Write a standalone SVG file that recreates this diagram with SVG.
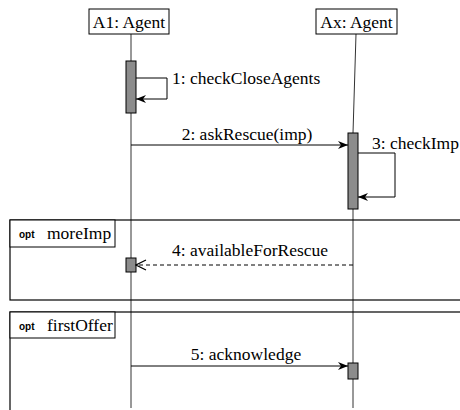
<svg xmlns="http://www.w3.org/2000/svg" width="460" height="410" viewBox="0 0 460 410">
<defs>
<style>
text{font-family:"Liberation Serif","Times New Roman",serif;font-size:17.5px;fill:#000}
.op{font-family:"Liberation Sans",Arial,sans-serif;font-size:10px;font-weight:bold}
.line{stroke:#000;stroke-width:1;fill:none}
.life{stroke:#333;stroke-width:1;fill:none}
.bar{fill:#8c8c8c;stroke:#000;stroke-width:1}
.box{fill:#fff;stroke:#000;stroke-width:1}
.frame{fill:none;stroke:#000;stroke-width:1.2}
</style>
<marker id="fill" viewBox="0 0 10 10" refX="10" refY="5" markerWidth="10" markerHeight="10" markerUnits="userSpaceOnUse" orient="auto"><path d="M0,1 L10,5 L0,9 L3,5 Z" fill="#000"/></marker>
<marker id="open" viewBox="0 0 12 12" refX="11" refY="6" markerWidth="12" markerHeight="12" markerUnits="userSpaceOnUse" orient="auto"><path d="M1,1 L11,6 L1,11" fill="none" stroke="#000" stroke-width="1.2"/></marker>
</defs>
<rect width="460" height="410" fill="#fff"/>
<g id="lifelines">
<line class="life" x1="131" y1="34" x2="131" y2="408"/>
<line class="life" x1="356" y1="34" x2="353" y2="133"/>
<line class="life" x1="353" y1="209" x2="353" y2="408"/>
</g>
<g id="frame-moreImp">
<rect class="frame" x="10" y="220" width="460" height="80"/>
<rect class="box" x="10" y="220" width="105" height="27"/>
<text class="op" x="19" y="238">opt</text>
<text x="47" y="239">moreImp</text>
</g>
<g id="frame-firstOffer">
<rect class="frame" x="10" y="312" width="460" height="110"/>
<rect class="box" x="10" y="312" width="105" height="26"/>
<text class="op" x="19" y="330">opt</text>
<text x="47" y="331">firstOffer</text>
</g>
<g id="A1">
<rect class="box" x="89" y="9" width="80" height="25"/>
<text x="129" y="28" text-anchor="middle">A1: Agent</text>
</g>
<g id="Ax">
<rect class="box" x="316" y="9" width="81" height="25"/>
<text x="356.5" y="28" text-anchor="middle">Ax: Agent</text>
</g>
<g id="activations">
<rect class="bar" x="126" y="61" width="10" height="52"/>
<rect class="bar" x="348" y="133" width="10" height="76"/>
<rect class="bar" x="126" y="258" width="10" height="14"/>
<rect class="bar" x="348" y="363" width="10" height="16"/>
</g>
<g id="connectors">
<polyline class="line" points="136,78 167,78 167,99 136,99" marker-end="url(#fill)"/>
<line class="line" x1="131" y1="145" x2="348" y2="145" marker-end="url(#fill)"/>
<polyline class="line" points="358,153 395,153 395,197 358,197" marker-end="url(#fill)"/>
<line class="line" x1="353" y1="265" x2="136" y2="265" stroke-dasharray="4,3" marker-end="url(#open)"/>
<line class="line" x1="131" y1="366" x2="348" y2="366" marker-end="url(#fill)"/>
</g>
<g id="labels">
<text x="172" y="84">1: checkCloseAgents</text>
<text x="247" y="140" text-anchor="middle">2: askRescue(imp)</text>
<text x="372" y="149">3: checkImp</text>
<text x="250" y="256" text-anchor="middle">4: availableForRescue</text>
<text x="246" y="360" text-anchor="middle">5: acknowledge</text>
</g>
</svg>
